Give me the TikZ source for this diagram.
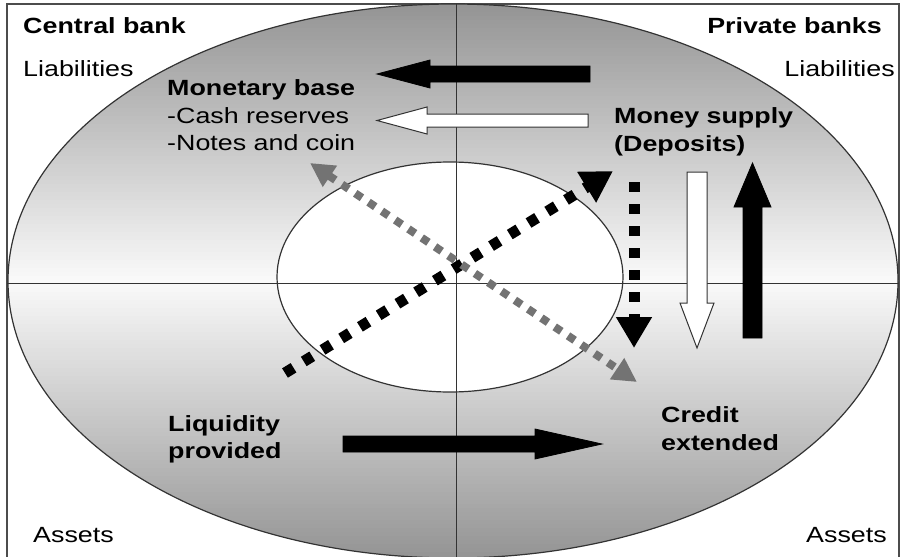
\documentclass[tikz,border=0pt]{standalone}
\usepackage{fontspec}
\setmainfont{Liberation Sans}[FakeStretch=1.22]
\usetikzlibrary{arrows.meta}
\begin{document}
\begin{tikzpicture}[x=1pt,y=-1pt,
  lbl/.style={inner sep=0pt, text=black, font=\fontsize{22}{26}\selectfont},
  blbl/.style={inner sep=0pt, text=black, font=\fontsize{22}{26}\selectfont\bfseries},
  frameline/.style={draw=black!70, line width=1.5pt},
  axisline/.style={draw=black!80, line width=1pt},
  ring/.style={draw=black!80, line width=1.2pt},
  solidarrow/.style={fill=black, draw=black, line width=0.8pt},
  hollowarrow/.style={fill=white, draw=black!80, line width=1pt},
  blkdots/.style={draw=black, line width=11pt, dash pattern=on 10pt off 12pt,
    -{Triangle[length=31pt,width=34pt]}},
  graydots/.style={draw=black!55, line width=8pt, dash pattern=on 8pt off 8pt,
    {Triangle[length=24pt,width=24pt]}-{Triangle[length=24pt,width=24pt]}}
]
\useasboundingbox (0,0) rectangle (900,557);
\fill[white] (0,0) rectangle (900,557);
% frame
\draw[frameline] (7,560) -- (7,4) -- (899,4) -- (899,560);
% outer ellipse with vertical gradient (strips)
\begin{scope}
\clip (453,281) ellipse [x radius=445pt, y radius=277pt];
\foreach \i in {0,...,139} {
  \pgfmathsetmacro{\ya}{4+4*\i}
  \pgfmathsetmacro{\yb}{\ya+4.6}
  \pgfmathsetmacro{\g}{2+40*abs(\ya+2-281)/277}
  \fill[black!\g] (0,\ya) rectangle (900,\yb);
}
\end{scope}
\draw[ring] (453,281) ellipse [x radius=445pt, y radius=277pt];
% inner ellipse
\draw[ring, fill=white] (450,277) ellipse [x radius=173pt, y radius=115pt];
% axes
\draw[axisline] (456,4) -- (456,557);
\draw[axisline] (7,283) -- (899,283);

% block arrows
\draw[solidarrow] (590,66) -- (430,66) -- (430,60) -- (377,74) -- (430,88) -- (430,82) -- (590,82) -- cycle;
\draw[hollowarrow] (588,114) -- (427,114) -- (427,107) -- (377,120.5) -- (427,134) -- (427,127) -- (588,127) -- cycle;
\draw[hollowarrow] (687,172) -- (687,303) -- (680,303) -- (697,348) -- (714,303) -- (707,303) -- (707,172) -- cycle;
\draw[solidarrow] (743,338) -- (743,207) -- (734,207) -- (752.5,163) -- (771,207) -- (762,207) -- (762,338) -- cycle;
\draw[solidarrow] (343,436) -- (535,436) -- (535,429) -- (602,444) -- (535,459) -- (535,452) -- (343,452) -- cycle;

% dotted arrows
\coordinate (ds) at (634,182);
\coordinate (de) at (634,348);
\draw[blkdots] (ds) -- (de);
\coordinate (bs) at (285,373);
\coordinate (be) at (613,171);
\draw[blkdots] (bs) -- (be);
\coordinate (gs) at (310,163);
\coordinate (ge) at (637,382);
\draw[graydots] (gs) -- (ge);

% labels
\node[blbl, anchor=base west] (cb) at (23,33) {Central bank};
\node[blbl, anchor=base east] (pb) at (882,33) {Private banks};
\node[lbl, anchor=base west] (liabL) at (23,76) {Liabilities};
\node[lbl, anchor=base east] (liabR) at (895,76) {Liabilities};
\node[blbl, anchor=base west] (mb) at (167,95) {Monetary base};
\node[lbl, anchor=base west] (cr) at (167,123) {-Cash reserves};
\node[lbl, anchor=base west] (nc) at (167,150) {-Notes and coin};
\node[blbl, anchor=base west] (ms) at (614,123) {Money supply};
\node[blbl, anchor=base west] (dep) at (614,151) {(Deposits)};
\node[blbl, anchor=base west] (liq) at (168,431) {Liquidity};
\node[blbl, anchor=base west] (prov) at (168,458) {provided};
\node[blbl, anchor=base west] (cred) at (661,422) {Credit};
\node[blbl, anchor=base west] (ext) at (661,450) {extended};
\node[lbl, anchor=base west] (assL) at (33,542) {Assets};
\node[lbl, anchor=base west] (assR) at (806,542) {Assets};
\end{tikzpicture}
\end{document}
